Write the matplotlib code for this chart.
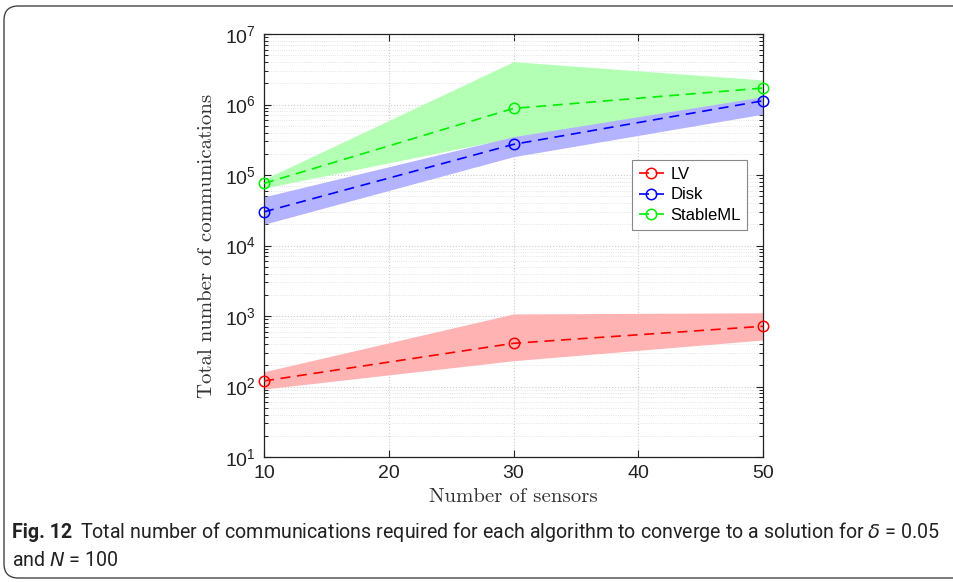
import matplotlib
matplotlib.use("Agg")
import matplotlib.pyplot as plt
from matplotlib.patches import FancyBboxPatch
from matplotlib.ticker import LogLocator, NullFormatter

sensors = [10, 30, 50]
series_names = ["LV", "Disk", "StableML"]
lv_mean = [120, 410, 715]
lv_low = [92, 232, 457]
lv_high = [162, 1070, 1110]
disk_mean = [3.0e4, 2.72e5, 1.13e6]
disk_low = [2.0e4, 1.82e5, 7.3e5]
disk_high = [4.9e4, 3.5e5, 1.29e6]
sml_mean = [7.6e4, 8.8e5, 1.71e6]
sml_low = [6.5e4, 3.4e5, 1.25e6]
sml_high = [8.7e4, 4.05e6, 2.23e6]
colors = ["#ff0000", "#0000ff", "#00f000"]
fill_colors = ["#ffb3b3", "#b3b3ff", "#b3ffb3"]
xticks = [10, 20, 30, 40, 50]

W, H = 954, 582
fig = plt.figure(figsize=(W/100, H/100), dpi=100)
ax = fig.add_axes([264/W, 1-457/H, (763-264)/W, (457-34)/H])

ax.fill_between(sensors, sml_low, sml_high, color=fill_colors[2], lw=0, zorder=1)
ax.fill_between(sensors, disk_low, disk_high, color=fill_colors[1], lw=0, zorder=2)
ax.fill_between(sensors, lv_low, lv_high, color=fill_colors[0], lw=0, zorder=2)

for m, c, name in zip([lv_mean, disk_mean, sml_mean], colors, series_names):
    ax.plot(sensors, m, ls=(0, (6, 4)), color=c, lw=1.2, marker='o', ms=7.5,
            mfc='none', mec=c, mew=1.1, label=name, zorder=3, clip_on=False)

ax.set_yscale('log')
ax.set_ylim(10, 1e7)
ax.set_xlim(10, 50)
ax.set_xticks(xticks)
ax.yaxis.set_major_locator(LogLocator(base=10, numticks=10))
ax.yaxis.set_minor_locator(LogLocator(base=10, subs=range(2, 10), numticks=100))
ax.yaxis.set_minor_formatter(NullFormatter())
ax.tick_params(which='both', direction='in', top=True, right=True)
ax.tick_params(which='major', length=5, width=0.8, labelsize=14, colors='#222222', pad=6)
ax.tick_params(which='minor', length=3, width=0.6)
for lab in ax.get_xticklabels() + ax.get_yticklabels():
    lab.set_fontfamily('Liberation Sans')
ax.grid(True, which='major', ls=':', color='#cccccc', lw=0.8)
ax.grid(True, which='minor', ls=':', color='#dddddd', lw=0.6)
ax.set_axisbelow(True)
for s in ax.spines.values():
    s.set_color('#222222')
    s.set_linewidth(0.9)

ax.set_xlabel("Number of sensors", fontfamily='cmr10', fontsize=15, color='#333333', labelpad=4)
ax.set_ylabel("Total number of communications", fontfamily='cmr10', fontsize=15, color='#333333', labelpad=6)

leg = ax.legend(loc='upper left', bbox_to_anchor=((632-264)/499, (457-160)/423),
                borderaxespad=0,
                prop={'family': 'Liberation Sans', 'size': 12}, fancybox=False,
                edgecolor='#888888', framealpha=1, handlelength=1.5, borderpad=0.4,
                labelspacing=0.35, handletextpad=0.4)
leg.get_frame().set_linewidth(0.8)

box = FancyBboxPatch((4/W, 4/H), 1.2, 572/H, boxstyle="round,pad=0,rounding_size=0.015",
                     transform=fig.transFigure, fill=False, edgecolor='#444444', lw=1.0,
                     mutation_aspect=W/H)
fig.patches.append(box)

fam = ['Roboto', 'DejaVu Sans']
renderer = fig.canvas.get_renderer()

rest = fig.text(80/W, 1-532/H,
                r"Total number of communications required for each algorithm to converge to a solution for $\delta$ = 0.05",
                fontfamily=fam, fontsize=14, va='center', ha='left', color='#222222')
wid = rest.get_window_extent(renderer).width
fs = 14 * (945 - 80) / wid
rest.set_fontsize(fs)
figlab = fig.text(12/W, 1-532/H, "Fig. 12", fontfamily=fam, fontweight='bold', fontsize=fs,
                  va='center', ha='left', color='#222222')
fig.text(12/W, 1-561/H, r"and $N$ = 100", fontfamily=fam, fontsize=fs,
         va='center', ha='left', color='#222222')

fig.savefig("out.png", dpi=100)
